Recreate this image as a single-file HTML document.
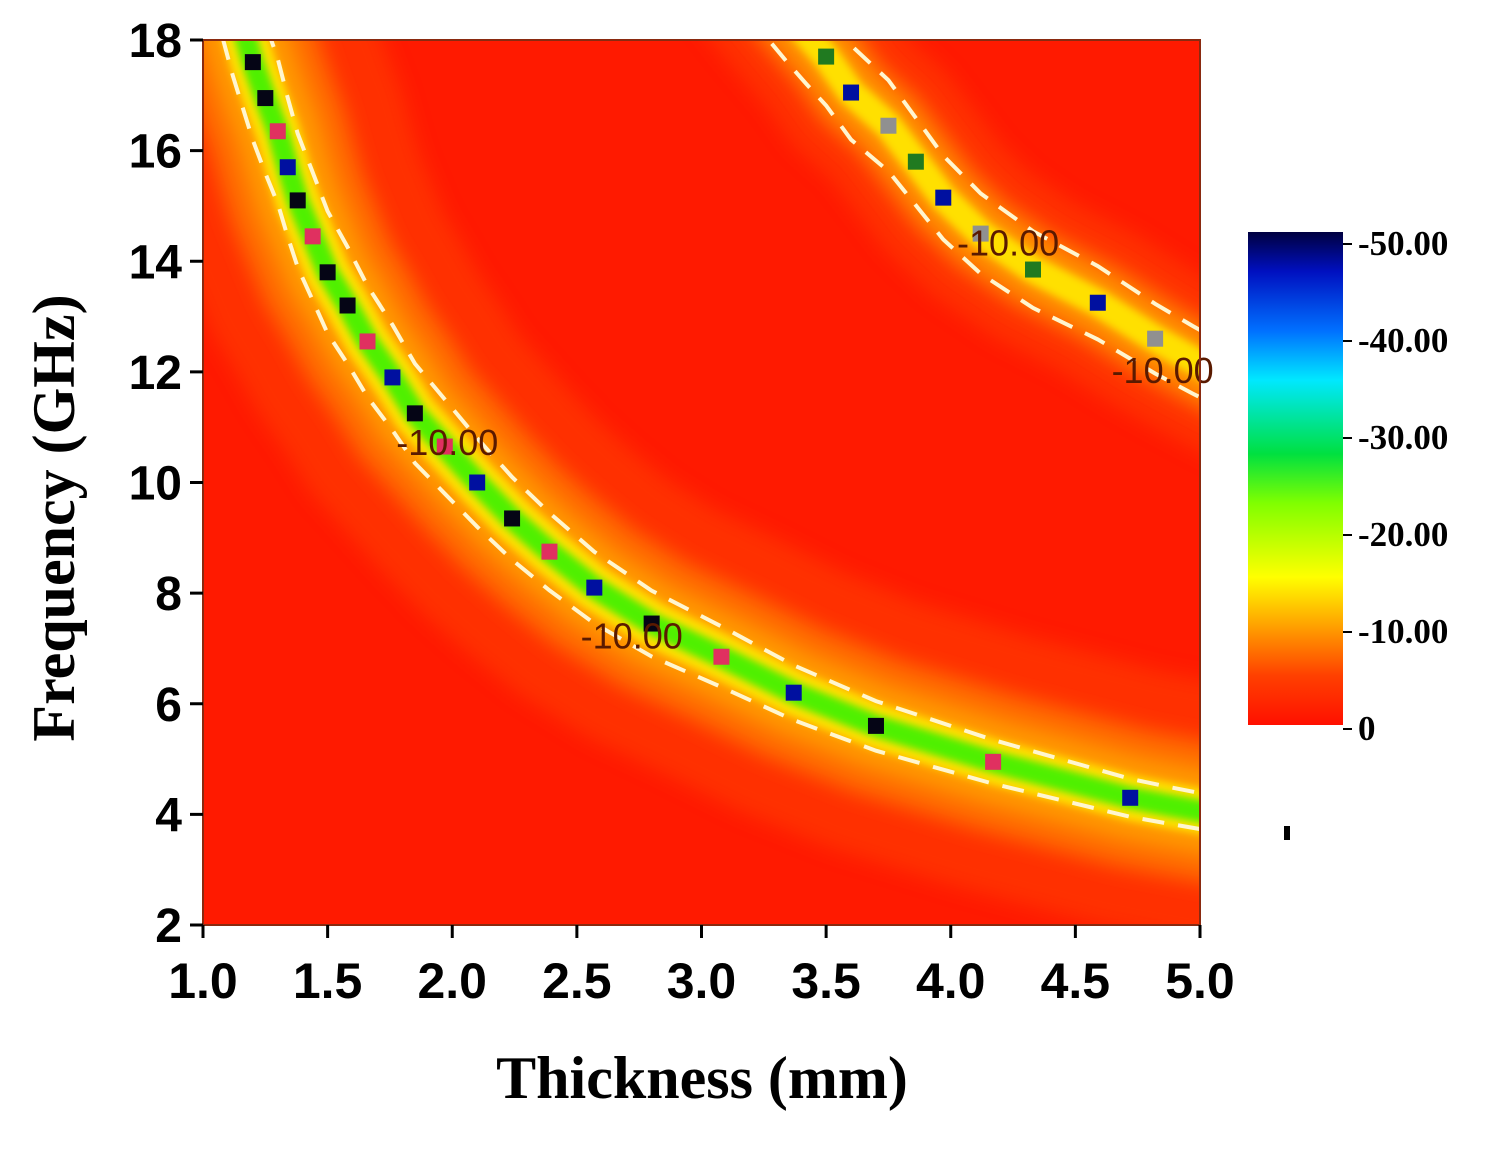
<!DOCTYPE html>
<html><head><meta charset="utf-8"><style>
body{margin:0;background:#fff;width:1495px;height:1147px;overflow:hidden}
svg text{font-family:"Liberation Serif",serif;font-weight:bold}
</style></head><body>
<svg id="chart" width="1495" height="1147" xmlns="http://www.w3.org/2000/svg">
<defs>
<linearGradient id="cbar" x1="0" y1="0" x2="0" y2="1">
<stop offset="0" stop-color="#000040"/><stop offset="0.08" stop-color="#0010c0"/><stop offset="0.2" stop-color="#0070ff"/>
<stop offset="0.3" stop-color="#00e8ff"/><stop offset="0.45" stop-color="#00e040"/><stop offset="0.55" stop-color="#80ff00"/>
<stop offset="0.7" stop-color="#ffff00"/><stop offset="0.8" stop-color="#ffa000"/><stop offset="0.9" stop-color="#ff4000"/><stop offset="1" stop-color="#ff1000"/>
</linearGradient>
<clipPath id="plotclip"><rect x="203" y="40" width="997" height="885"/></clipPath>
<filter id="blur"><feGaussianBlur stdDeviation="10"/></filter>
<filter id="blur2"><feGaussianBlur stdDeviation="4"/></filter>
</defs>
<rect x="203" y="40" width="997" height="885" fill="#ff1a00"/>
<g id="bands" clip-path="url(#plotclip)"></g>
<g id="marks"></g>
<rect x="203" y="40" width="997" height="885" fill="none" stroke="#8a2a10" stroke-width="2"/>
<g id="axes"></g>
<text x="702" y="1098" font-size="60" text-anchor="middle">Thickness (mm)</text>
<text transform="translate(74,518) rotate(-90)" font-size="60" text-anchor="middle">Frequency (GHz)</text>
<rect x="1248" y="232" width="95" height="493" fill="url(#cbar)"/>
<g id="cbticks"></g>
<rect x="1284" y="826" width="6" height="14" fill="#000"/>
</svg>
<script>
const xTicks=[1.0,1.5,2.0,2.5,3.0,3.5,4.0,4.5,5.0];
const yTicks=[2,4,6,8,10,12,14,16,18];
const cbLabels=["-50.00","-40.00","-30.00","-20.00","-10.00","0"];
const cbValues=[-50,-40,-30,-20,-10,0];
const lowT=[1.2,1.25,1.3,1.34,1.38,1.44,1.5,1.58,1.66,1.76,1.85,1.97,2.1,2.24,2.39,2.57,2.8,3.08,3.37,3.7,4.17,4.72];
const lowF=[17.6,16.95,16.35,15.7,15.1,14.45,13.8,13.2,12.55,11.9,11.25,10.65,10.0,9.35,8.75,8.1,7.45,6.85,6.2,5.6,4.95,4.3];
const lowC=["k","k","p","b","k","p","k","k","p","b","k","p","b","k","p","b","k","p","b","k","p","b"];
const upT=[3.5,3.6,3.75,3.86,3.97,4.12,4.33,4.59,4.82];
const upF=[17.7,17.05,16.45,15.8,15.15,14.5,13.85,13.25,12.6];
const upC=["g","b","s","g","b","s","g","b","s"];
const labelT=[1.98,2.72,4.23,4.85];
const labelF=[10.5,7.0,14.1,11.8];
const X=t=>203+(t-1)/4*997;
const Y=f=>40+(18-f)/16*885;
const NS="http://www.w3.org/2000/svg";
function mk(tag,attrs,parent){const e=document.createElementNS(NS,tag);for(const k in attrs)e.setAttribute(k,attrs[k]);parent.appendChild(e);return e;}
const colors={k:"#050515",b:"#0010a0",p:"#e03060",g:"#207a20",s:"#909090"};
function pathFor(T,F,scale,ext){
  const pts=[];
  const k0=T[0]*F[0],k1=T[T.length-1]*F[F.length-1];
  for(let i=ext;i>0;i--){const t=T[0]-0.08*i;pts.push([t,k0/t]);}
  for(let i=0;i<T.length;i++)pts.push([T[i],F[i]]);
  for(let i=1;i<=ext;i++){const t=T[T.length-1]+0.15*i;pts.push([t,k1/t]);}
  return "M"+pts.map(p=>X(p[0]).toFixed(1)+","+Y(p[1]*scale).toFixed(1)).join("L");
}
const bands=document.getElementById('bands');
function band(T,F,name,greenW,w,off){
  const g=mk('g',{},bands);
  
  
  const d=pathFor(T,F,1,6);
  mk('path',{d,fill:'none',stroke:'#ff4000',"stroke-width":260*w,filter:'url(#blur)',opacity:0.6},g);
  mk('path',{d,fill:'none',stroke:'#ff6a00',"stroke-width":140*w,filter:'url(#blur)'},g);
  mk('path',{d,fill:'none',stroke:'#ff9a00',"stroke-width":85*w,filter:'url(#blur)'},g);
  mk('path',{d,fill:'none',stroke:'#ffe000',"stroke-width":45*w,filter:'url(#blur2)'},g);
  if(greenW)mk('path',{d,fill:'none',stroke:'#50f000',"stroke-width":greenW,filter:'url(#blur2)'},g);
  const d1=pathFor(T,F,1-off,6),d2=pathFor(T,F,1+off,6);
  mk('path',{d:d1,fill:'none',stroke:'#fff6d0',"stroke-width":4,"stroke-dasharray":"22 14"},g);
  mk('path',{d:d2,fill:'none',stroke:'#fff6d0',"stroke-width":4,"stroke-dasharray":"22 14"},g);
}
band(lowT,lowF,'lower-absorption-band',22,1,0.08);
band(upT,upF,'upper-absorption-band',0,0.6,0.05);
const marks=document.getElementById('marks');
function pts(T,F,C,name){
  for(let i=0;i<T.length;i++){
    const r=mk('rect',{x:X(T[i])-8,y:Y(F[i])-8,width:16,height:16,fill:colors[C[i]]},marks);
    
    
  }
}
pts(lowT,lowF,lowC,'lower-band-marker');
pts(upT,upF,upC,'upper-band-marker');
for(let i=0;i<labelT.length;i++){
  const t=mk('text',{x:X(labelT[i]),y:Y(labelF[i]),"font-size":36,"text-anchor":"middle",fill:"#5a1a00",style:"font-family:'Liberation Sans',sans-serif;font-weight:normal"},marks);
  t.textContent="-10.00";
  
  
}
const axes=document.getElementById('axes');
xTicks.forEach(v=>{
  const l=mk('line',{x1:X(v),x2:X(v),y1:925,y2:938,stroke:'#000',"stroke-width":3},axes);
  
  
  const t=mk('text',{x:X(v),y:998,"font-size":50,"text-anchor":"middle",style:"font-family:'Liberation Sans',sans-serif"},axes);
  t.textContent=v.toFixed(1);
  
  
});
yTicks.forEach(v=>{
  const l=mk('line',{x1:190,x2:203,y1:Y(v),y2:Y(v),stroke:'#000',"stroke-width":3},axes);
  
  
  const t=mk('text',{x:182,y:Y(v)+17,"font-size":48,"text-anchor":"end",style:"font-family:'Liberation Sans',sans-serif"},axes);
  t.textContent=v;
  
  
});
const cb=document.getElementById('cbticks');
const CY=v=>244+(v+50)/50*485;
cbValues.forEach((v,i)=>{
  const l=mk('line',{x1:1343,x2:1352,y1:CY(v),y2:CY(v),stroke:'#000',"stroke-width":2},cb);
  
  
  const t=mk('text',{x:1358,y:CY(v)+11,"font-size":35},cb);
  t.textContent=cbLabels[i];
  
  
});
</script>
</body></html>
